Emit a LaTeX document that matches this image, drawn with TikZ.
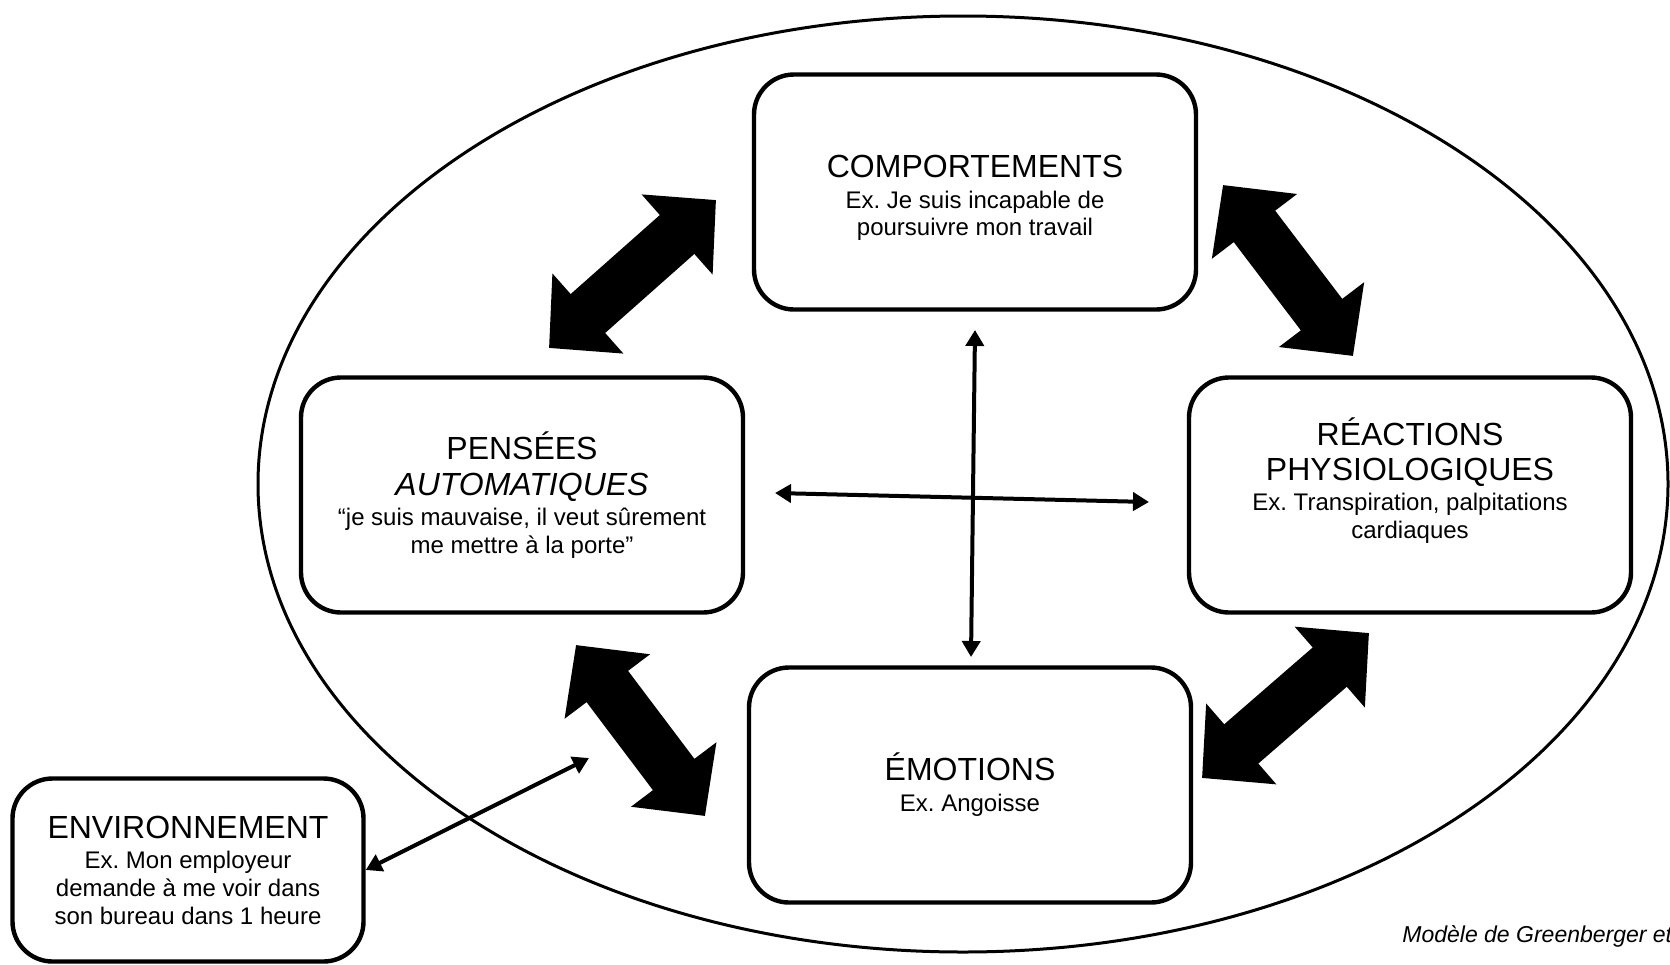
\documentclass[tikz,border=0pt]{standalone}
\usepackage{fontspec}
\setmainfont{Liberation Sans}
\usetikzlibrary{arrows.meta}
\newcommand{\titre}[1]{{\fontsize{16}{18}\selectfont #1}}
\frenchspacing
\begin{document}
\begin{tikzpicture}[x=0.5pt,y=-0.5pt,
	box/.style={draw, fill=white, line width=2.2pt, rounded corners=20pt, align=center,
		minimum width=221pt, minimum height=117.5pt, inner sep=0pt,
		font=\fontsize{12}{13.8}\selectfont},
	bigarrow/.style={line width=26pt, {Triangle[length=26pt,width=52pt]}-{Triangle[length=26pt,width=52pt]}},
	thinarrow/.style={line width=2pt, {Triangle[length=8pt,width=9pt]}-{Triangle[length=8pt,width=9pt]}}]
	\useasboundingbox (0,0) rectangle (1670,964);
	\draw[line width=1.5pt] (963,484) ellipse [x radius=705, y radius=468];

	\node (comp) at (975,192)	[box]	{\mbox{}\\[3.1pt] \titre{COMPORTEMENTS}\\[1.6pt] Ex. Je suis incapable de\\ poursuivre mon travail};
	\node (pens) at (522,495)	[box]	{\titre{PENSÉES}\\[4.2pt] \titre{\itshape AUTOMATIQUES}\\[1.6pt] “je suis mauvaise, il veut sûrement\\ me mettre à la porte”};
	\node (reac) at (1410,495)	[box]	{\titre{RÉACTIONS}\\[3.4pt] \titre{PHYSIOLOGIQUES}\\[1.6pt] Ex. Transpiration, palpitations\\ cardiaques\\[3pt] \mbox{}};
	\node (emot) at (970,785)	[box]	{\titre{ÉMOTIONS}\\[1.6pt] Ex. Angoisse};
	\node (env) at (188,870)	[box, minimum width=175.5pt, minimum height=91.5pt]	{\titre{ENVIRONNEMENT}\\[1.6pt] Ex. Mon employeur\\ demande à me voir dans\\ son bureau dans 1 heure};

	% grosses fleches
	\coordinate (pc1) at (549,348);	\coordinate (pc2) at (716,200);
	\coordinate (cr1) at (1223,185);	\coordinate (cr2) at (1353,356);
	\coordinate (pe1) at (576,645);	\coordinate (pe2) at (705,816);
	\coordinate (er1) at (1202,778);	\coordinate (er2) at (1369,633);
	\draw[bigarrow] (pc1) -- (pc2);
	\draw[bigarrow] (cr1) -- (cr2);
	\draw[bigarrow] (pe1) -- (pe2);
	\draw[bigarrow] (er1) -- (er2);

	% fleches fines
	\coordinate (v1) at (975,330);	\coordinate (v2) at (971,657);
	\coordinate (h1) at (775,493);	\coordinate (h2) at (1149,502);
	\coordinate (e2) at (589,758);
	\draw[thinarrow] (v1) -- (v2);
	\draw[thinarrow] (h1) -- (h2);
	\draw[thinarrow] (env.east |- 0,870) -- (e2);

	\node (source) at (1402,942)	[anchor=base west, inner sep=0pt, font=\fontsize{11.5}{13}\selectfont\itshape]	{Modèle de Greenberger et Padesky};
\end{tikzpicture}
\end{document}
